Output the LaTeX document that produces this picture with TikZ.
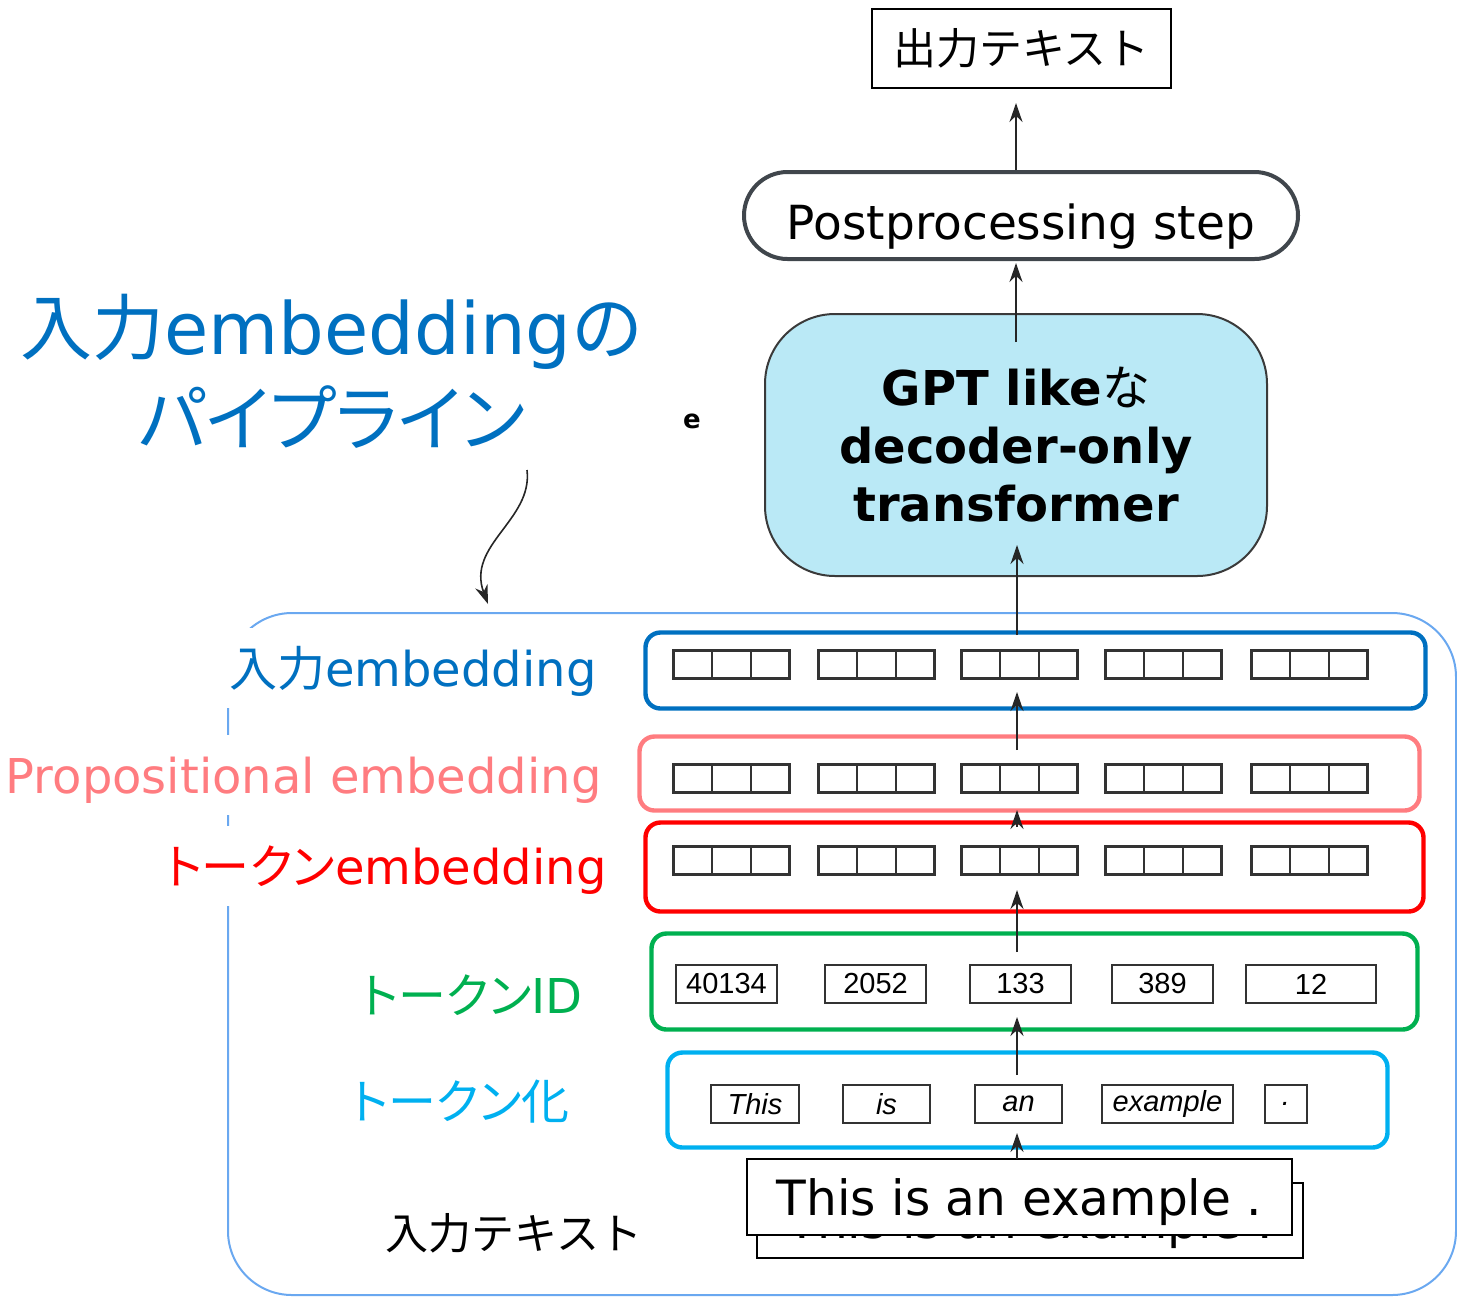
\documentclass[tikz,border=0pt]{standalone}
\usepackage{fontspec}
\setmainfont{DejaVu Sans}
\newfontfamily\jp{Noto Sans CJK JP}
\newfontfamily\jpp[RawFeature=+palt]{Noto Sans CJK JP}
\newfontfamily\arialf{Liberation Sans}
\usetikzlibrary{arrows.meta}

\definecolor{cTitle}{HTML}{0070C0}
\definecolor{cPink}{HTML}{FF7C80}
\definecolor{cRed}{HTML}{FF0000}
\definecolor{cGreen}{HTML}{00B050}
\definecolor{cCyan}{HTML}{00B0F0}
\definecolor{cFrame}{HTML}{6AA8F0}
\definecolor{cPost}{HTML}{40464C}
\definecolor{cGptFill}{HTML}{BAE9F6}
\definecolor{cGptDraw}{HTML}{3A3A3A}
\definecolor{cCell}{HTML}{333333}

\tikzset{
  arr/.style={draw=black!85, line width=1pt, -{Stealth[length=9.5pt,width=6.5pt]}},
  stage/.style={draw=#1, line width=2.2pt, rounded corners=7.5pt, inner sep=0pt},
  cell/.style={draw=cCell, line width=1.25pt, minimum width=19.35pt, minimum height=14pt, inner sep=0pt},
  idbox/.style={draw=cCell, line width=1pt, minimum height=19pt, inner sep=0pt,
                font=\arialf\fontsize{14.5pt}{14.5pt}\selectfont},
  wordbox/.style={idbox, font=\arialf\itshape\fontsize{14.5pt}{14.5pt}\selectfont},
  lbl/.style={fill=white, inner xsep=6pt, inner ysep=5pt, text height=24pt, text depth=6pt,
              anchor=base east, font=\fontsize{24pt}{24pt}\selectfont},
  textbox/.style={draw=black, line width=0.8pt, minimum width=272.5pt, minimum height=38pt,
                  inner sep=0pt, text depth=0pt, font=\fontsize{24.3pt}{24.3pt}\selectfont},
}

\begin{document}
\begin{tikzpicture}[x=0.5pt, y=-0.5pt]
\useasboundingbox (0,0) rectangle (1457,1297);

% outer frame of the input embedding pipeline
\node[draw=cFrame, line width=1pt, rounded corners=32pt, minimum width=614pt,
      minimum height=341pt, inner sep=0pt] (frame) at (842,954) {};

% title and pointer to the frame
\node[text=cTitle, align=center, font=\fontsize{36pt}{45.5pt}\selectfont] (title) at (332,371)
  {{\jp 入力}embedding{\jp の}\\{\jpp パイプライン}};
\coordinate (curlstart) at (527,470);
\coordinate (curlend) at (488,604);
\draw[arr, line width=0.8pt] (curlstart) .. controls (533,520) and (466,545) .. (curlend);

\node[font=\bfseries\fontsize{13pt}{13pt}\selectfont] (stray) at (692,421) {e};

% input text (two stacked copies)
\node[textbox, minimum width=273pt, minimum height=37.5pt] (inback) at (1030,1220.5) {This is an example .};
\node[textbox, fill=white] (in) at (1019.5,1197) {This is an example .};

% stage labels
\node[lbl, text=cTitle] (lblEmb) at (609,686) {{\jp 入力}embedding};
\node[lbl, text=cPink] (lblPos) at (614,793) {Propositional embedding};
\node[lbl, text=cRed] (lblTok) at (619,884) {{\jpp トークン}embedding};
\node[anchor=base east, inner sep=0pt, text=cGreen, font=\fontsize{24pt}{24pt}\selectfont] (lblId) at (583,1013) {{\jpp トークン}ID};
\node[anchor=base east, inner sep=0pt, text=cCyan, font=\fontsize{24pt}{24pt}\selectfont] (lblTkn) at (570,1119) {\jpp トークン{\jp 化}};
\node[anchor=base west, inner sep=0pt, font=\jp\fontsize{21.5pt}{21.5pt}\selectfont] (lblIn) at (385,1249) {入力テキスト};

% stage boxes
\node[stage=cTitle, minimum width=390pt, minimum height=38pt] (emb) at (1035.5,670.5) {};
\node[stage=cPink, minimum width=390pt, minimum height=37pt] (pos) at (1029.5,773.5) {};
\node[stage=cRed, minimum width=389pt, minimum height=44.5pt] (tok) at (1034.5,867) {};
\node[stage=cGreen, minimum width=383pt, minimum height=48pt] (ids) at (1034.5,981.5) {};
\node[stage=cCyan, minimum width=360pt, minimum height=47.5pt] (tkn) at (1027.5,1100) {};

% embedding vectors
\foreach \r/\y in {1/664.5, 2/778.5, 3/860.5}{
  \foreach \g/\cx in {1/731.5, 2/876.5, 3/1019.5, 4/1163.5, 5/1309.5}{
    \foreach \k in {-1,0,1}{
      \node[cell] (c\r\g\k) at (\cx+\k*38.7,\y) {};
    }
  }
}

% token ids
\node[idbox, minimum width=50.5pt] (id1) at (726.5,984) {40134};
\node[idbox, minimum width=50.5pt] (id2) at (875.5,984) {2052};
\node[idbox, minimum width=50.5pt] (id3) at (1020.5,984) {133};
\node[idbox, minimum width=50.5pt] (id4) at (1162.5,984) {389};
\node[idbox, minimum width=65pt] (id5) at (1311,984) {12};

% tokens
\node[wordbox, minimum width=44pt] (w1) at (755,1104) {This};
\node[wordbox, minimum width=43.5pt] (w2) at (886.5,1104) {is};
\node[wordbox, minimum width=43.5pt] (w3) at (1018.5,1104) {an};
\node[wordbox, minimum width=65.5pt] (w4) at (1167.5,1104) {example};
\node[wordbox, minimum width=21pt] (w5) at (1286,1104) {.};

% transformer, postprocessing, output
\node[draw=cGptDraw, fill=cGptFill, line width=1pt, rounded corners=35pt, minimum width=251pt,
      minimum height=131pt, align=center, font=\bfseries\fontsize{24pt}{29pt}\selectfont] (gpt) at (1016,445)
  {GPT like{\jp\mdseries な}\\decoder-only\\transformer};
\node[draw=cPost, line width=2pt, rounded corners=21.75pt, minimum width=277pt, minimum height=43.5pt,
      text height=26pt, text depth=2.5pt, font=\fontsize{23.5pt}{23.5pt}\selectfont] (post) at (1021,215.5) {Postprocessing step};
\node[draw=black, line width=0.8pt, minimum width=149.5pt, minimum height=39.5pt,
      font=\jp\fontsize{21.5pt}{21.5pt}\selectfont] (out) at (1021.5,48.5) {出力テキスト};

% data flow
\coordinate (s0) at (1017,1159); \coordinate (t0) at (1017,1133);
\coordinate (s1) at (1017,1075); \coordinate (t1) at (1017,1017);
\coordinate (s2) at (1017,952);  \coordinate (t2) at (1017,890);
\coordinate (s3) at (1017,827);  \coordinate (t3) at (1017,810);
\coordinate (s4) at (1017,750);  \coordinate (t4) at (1017,692);
\coordinate (s5) at (1017,635);  \coordinate (t5) at (1017,545);
\coordinate (s6) at (1016,342);  \coordinate (t6) at (1016,263);
\coordinate (s7) at (1016,170);  \coordinate (t7) at (1016,103);
\foreach \i in {0,...,7}{ \draw[arr] (s\i) -- (t\i); }
\end{tikzpicture}
\end{document}
